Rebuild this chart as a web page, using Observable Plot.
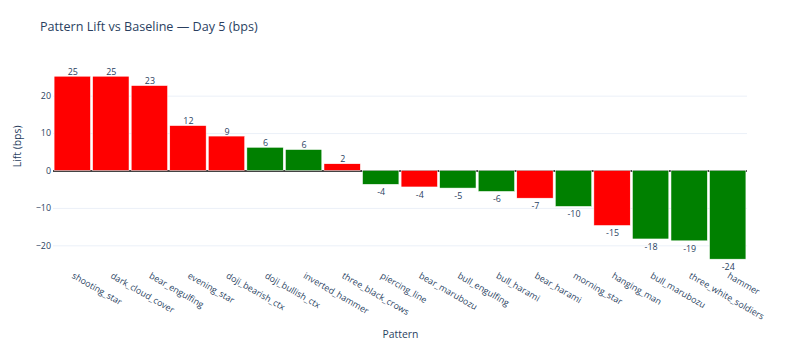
<!DOCTYPE html>
<html>
<head>
<meta charset="utf-8">
<script src="https://cdn.jsdelivr.net/npm/d3@7"></script>
<script src="https://cdn.jsdelivr.net/npm/@observablehq/plot@0.6"></script>
<style>
  html, body { margin: 0; padding: 0; background: white; }
  #wrap { position: relative; width: 800px; height: 346px; }
  #title { position: absolute; left: 40px; top: 21px; font-family: 'Open Sans', sans-serif; font-size: 12.6px; color: #2a3f5f; white-space: nowrap; line-height: 1; }
  #chart { position: absolute; left: 0; top: 0; }
</style>
</head>
<body>
<div id="wrap">
  <div id="chart"></div>
  <div id="title">Pattern Lift vs Baseline — Day 5 (bps)</div>
</div>
<script>
const patterns = ["shooting_star","dark_cloud_cover","bear_engulfing","evening_star","doji_bearish_ctx","doji_bullish_ctx","inverted_hammer","three_black_crows","piercing_line","bear_marubozu","bull_engulfing","bull_harami","bear_harami","morning_star","hanging_man","bull_marubozu","three_white_soldiers","hammer"];
const lift = [25.2, 25.2, 22.7, 12.0, 9.2, 6.2, 5.6, 1.8, -3.7, -4.4, -4.7, -5.6, -7.4, -9.6, -14.7, -18.3, -18.8, -23.7];
const direction = ["bear","bear","bear","bear","bear","bull","bull","bear","bull","bear","bull","bull","bear","bull","bear","bull","bull","bull"];
const yTicks = [-20, -10, 0, 10, 20];

const data = patterns.map((p, i) => ({pattern: p, lift: lift[i], dir: direction[i]}));
const fmt = v => String(Math.round(v));
const ink = "#2a3f5f";

const chart = Plot.plot({
  width: 800,
  height: 346,
  marginLeft: 53,
  marginRight: 53,
  marginTop: 62,
  marginBottom: 74.5,
  style: {fontFamily: "'Open Sans', sans-serif", fontSize: "8.9px", color: ink, background: "white"},
  x: {domain: patterns, padding: 0, round: false, label: null},
  y: {domain: [-27, 29], label: null},
  marks: [
    Plot.gridY(yTicks.filter(t => t !== 0), {stroke: "#ebf0f8", strokeOpacity: 1}),
    Plot.ruleY([0], {stroke: "#444444", strokeWidth: 2}),
    Plot.barY(data, {x: "pattern", y: "lift", fill: d => d.dir === "bull" ? "#008000" : "#ff0000", stroke: "white", strokeWidth: 0.5, insetLeft: 1.1, insetRight: 1.1}),
    Plot.text(data.filter(d => d.lift >= 0), {x: "pattern", y: "lift", text: d => fmt(d.lift), lineAnchor: "bottom", dy: -2, fill: ink, fontSize: 8.9}),
    Plot.text(data.filter(d => d.lift < 0), {x: "pattern", y: "lift", text: d => fmt(d.lift), lineAnchor: "top", dy: 4, fill: ink, fontSize: 8.9}),
    Plot.axisX({tickRotate: 30, tickSize: 0, tickPadding: 3, label: null, fill: ink}),
    Plot.axisY(yTicks, {tickSize: 0, tickPadding: 2.5, label: null, fill: ink}),
    Plot.text(["Pattern"], {frameAnchor: "bottom", lineAnchor: "bottom", dy: 65.5, fontSize: 10.4, fill: ink}),
    Plot.text(["Lift (bps)"], {frameAnchor: "left", rotate: -90, dx: -35.5, fontSize: 10.4, fill: ink})
  ]
});
document.getElementById("chart").appendChild(chart);
</script>
</body>
</html>
